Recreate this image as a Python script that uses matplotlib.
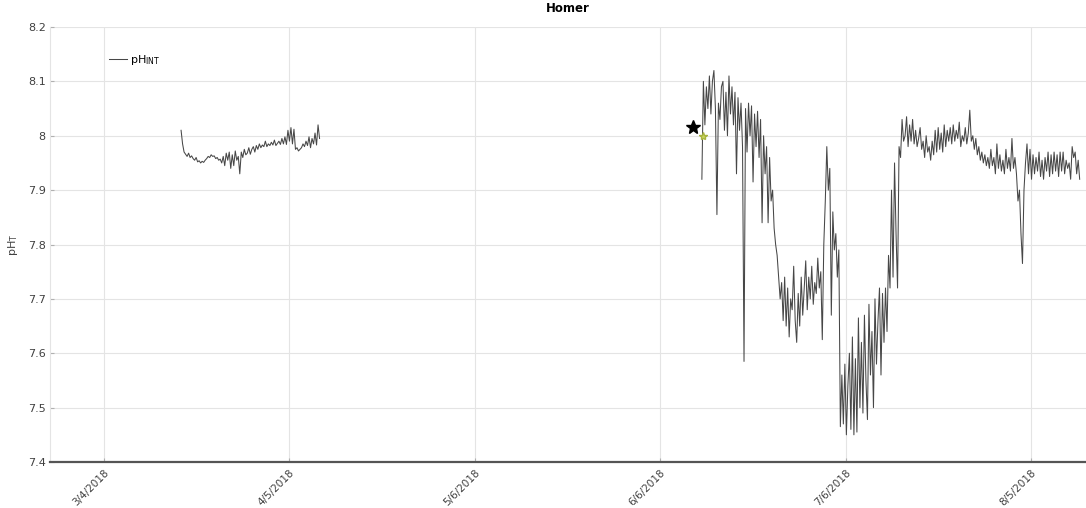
import numpy as np
import matplotlib
matplotlib.use("Agg")
import matplotlib.pyplot as plt

# ---- data -------------------------------------------------------------
# x axis is in days counted from the first labelled tick (3/4/2018)
tick_labels = ["3/4/2018", "4/5/2018", "5/6/2018", "6/6/2018", "7/6/2018", "8/5/2018"]
tick_days = [0.0, 30.8, 61.6, 92.4, 123.2, 154.0]

step_days = 0.25          # sampling interval of the pH record (6 h)

spring_start = 12.8       # first deployment
spring_ph = [
    8.010, 7.985, 7.970, 7.966,
    7.962, 7.968, 7.960, 7.963,
    7.958, 7.955, 7.960, 7.952,
    7.954, 7.950, 7.953, 7.951,
    7.955, 7.958, 7.962, 7.960,
    7.965, 7.962, 7.963, 7.958,
    7.960, 7.955, 7.957, 7.950,
    7.962, 7.945, 7.968, 7.955,
    7.970, 7.940, 7.965, 7.945,
    7.972, 7.955, 7.962, 7.930,
    7.970, 7.960, 7.975, 7.965,
    7.968, 7.978, 7.966, 7.975,
    7.980, 7.970, 7.982, 7.975,
    7.985, 7.978, 7.983, 7.980,
    7.990, 7.980, 7.985, 7.982,
    7.988, 7.983, 7.992, 7.982,
    7.986, 7.990, 7.984, 7.995,
    7.985, 7.998, 7.984, 8.010,
    7.990, 8.015, 7.985, 8.012,
    7.975, 7.978, 7.972, 7.975,
    7.978, 7.985, 7.980, 7.990,
    7.982, 7.998, 7.978, 7.995,
    7.985, 8.005, 7.983, 8.020,
    7.995,
]

summer_start = 99.3       # second deployment
summer_ph = [
    7.920, 8.100, 8.020, 8.090, 8.050, 8.110, 8.040, 8.100, 8.120, 8.050,
    7.855, 8.060, 8.030, 8.090, 8.100, 8.010, 8.080, 8.000, 8.110, 8.040,
    8.090, 8.020, 8.080, 7.930, 8.070, 8.010, 8.060, 7.980, 7.585, 8.050,
    7.970, 8.060, 8.000, 8.055, 7.915, 8.040, 7.980, 8.045, 7.960, 8.030,
    7.840, 8.000, 7.930, 7.980, 7.840, 7.960, 7.880, 7.900, 7.830, 7.800,
    7.780, 7.740, 7.700, 7.730, 7.660, 7.740, 7.650, 7.720, 7.630, 7.700,
    7.680, 7.760, 7.660, 7.620, 7.710, 7.650, 7.740, 7.670, 7.720, 7.770,
    7.680, 7.740, 7.700, 7.760, 7.690, 7.730, 7.710, 7.775, 7.720, 7.750,
    7.625, 7.800, 7.880, 7.980, 7.900, 7.940, 7.670, 7.860, 7.790, 7.820,
    7.740, 7.790, 7.465, 7.560, 7.470, 7.580, 7.450, 7.540, 7.600, 7.460,
    7.630, 7.450, 7.590, 7.455, 7.665, 7.500, 7.620, 7.490, 7.670, 7.550,
    7.478, 7.690, 7.560, 7.640, 7.500, 7.700, 7.580, 7.660, 7.720, 7.560,
    7.710, 7.620, 7.720, 7.640, 7.780, 7.720, 7.900, 7.740, 7.950, 7.820,
    7.720, 7.980, 7.960, 8.030, 7.990, 8.000, 8.035, 7.980, 8.020, 7.990,
    8.030, 7.985, 8.010, 7.980, 7.995, 8.015, 7.975, 7.990, 7.960, 8.000,
    7.970, 7.980, 7.955, 7.990, 7.965, 8.010, 7.970, 8.015, 7.975, 8.005,
    7.970, 8.020, 7.980, 8.010, 7.990, 8.015, 7.985, 8.020, 7.990, 8.010,
    7.995, 8.025, 7.980, 8.000, 7.990, 8.015, 7.985, 8.005, 8.047, 7.990,
    8.000, 7.975, 7.995, 7.965, 7.980, 7.955, 7.970, 7.950, 7.965, 7.945,
    7.960, 7.940, 7.975, 7.945, 7.960, 7.930, 7.985, 7.940, 7.965, 7.935,
    7.955, 7.930, 7.975, 7.940, 7.960, 7.935, 7.995, 7.940, 7.960, 7.930,
    7.880, 7.900, 7.820, 7.765, 7.900, 7.950, 7.985, 7.930, 7.975, 7.920,
    7.965, 7.930, 7.960, 7.935, 7.970, 7.925, 7.955, 7.920, 7.960, 7.935,
    7.970, 7.925, 7.965, 7.930, 7.970, 7.935, 7.965, 7.925, 7.970, 7.935,
    7.970, 7.930, 7.955, 7.940, 7.950, 7.920, 7.980, 7.960, 7.970, 7.930,
    7.955, 7.920,
]

# discrete bottle samples
star_day, star_ph = 97.8, 8.016
bottle_day, bottle_ph = 99.5, 8.000

# ---- figure -----------------------------------------------------------
fig = plt.figure(figsize=(10.86, 5.08), dpi=100)
ax = fig.add_axes([50 / 1086, 46 / 508, 1036 / 1086, 435 / 508])

line_kw = dict(color="#474747", lw=0.75)
t1 = spring_start + step_days * np.arange(len(spring_ph))
t2 = summer_start + step_days * np.arange(len(summer_ph))
ax.plot(t1, spring_ph, label=r"pH$_{\mathrm{INT}}$", **line_kw)
ax.plot(t2, summer_ph, **line_kw)

ax.plot([star_day], [star_ph], marker="*", ms=10, color="black",
        markeredgecolor="black", linestyle="none", zorder=5)
ax.plot([bottle_day], [bottle_ph], marker="*", ms=6, color="#c8d45a",
        markeredgecolor="#a8b440", linestyle="none", zorder=5)

ax.set_xlim(-8.97, 163.1)
ax.set_ylim(7.4, 8.2)
ax.set_xticks(tick_days)
ax.set_xticklabels(tick_labels, rotation=45, ha="right",
                   rotation_mode="anchor", fontsize=7.5, color="#404040")
ax.set_yticks(np.round(np.arange(7.4, 8.21, 0.1), 1))
ax.set_yticklabels(["7.4", "7.5", "7.6", "7.7", "7.8", "7.9", "8", "8.1", "8.2"],
                   fontsize=8, color="#404040")
ax.tick_params(axis="both", direction="in", length=3, color="#b0b0b0")
ax.tick_params(axis="x", pad=4)
ax.tick_params(axis="y", pad=3)

ax.grid(True, color="#e4e4e4", lw=0.8)
ax.set_axisbelow(True)
for side in ("top", "right"):
    ax.spines[side].set_visible(False)
ax.spines["left"].set_color("#e4e4e4")
ax.spines["bottom"].set_color("#555555")
ax.spines["bottom"].set_linewidth(1.6)

ax.set_ylabel(r"pH$_{\mathrm{T}}$", fontsize=8, color="#404040", labelpad=6)
ax.set_title("Homer", fontsize=8.5, fontweight="bold", pad=11)

ax.legend(loc="center left", bbox_to_anchor=(0.057, 0.924), frameon=False,
          fontsize=8, handlelength=1.6, handletextpad=0.3,
          borderpad=0, borderaxespad=0)

fig.savefig("out.png", dpi=100)
